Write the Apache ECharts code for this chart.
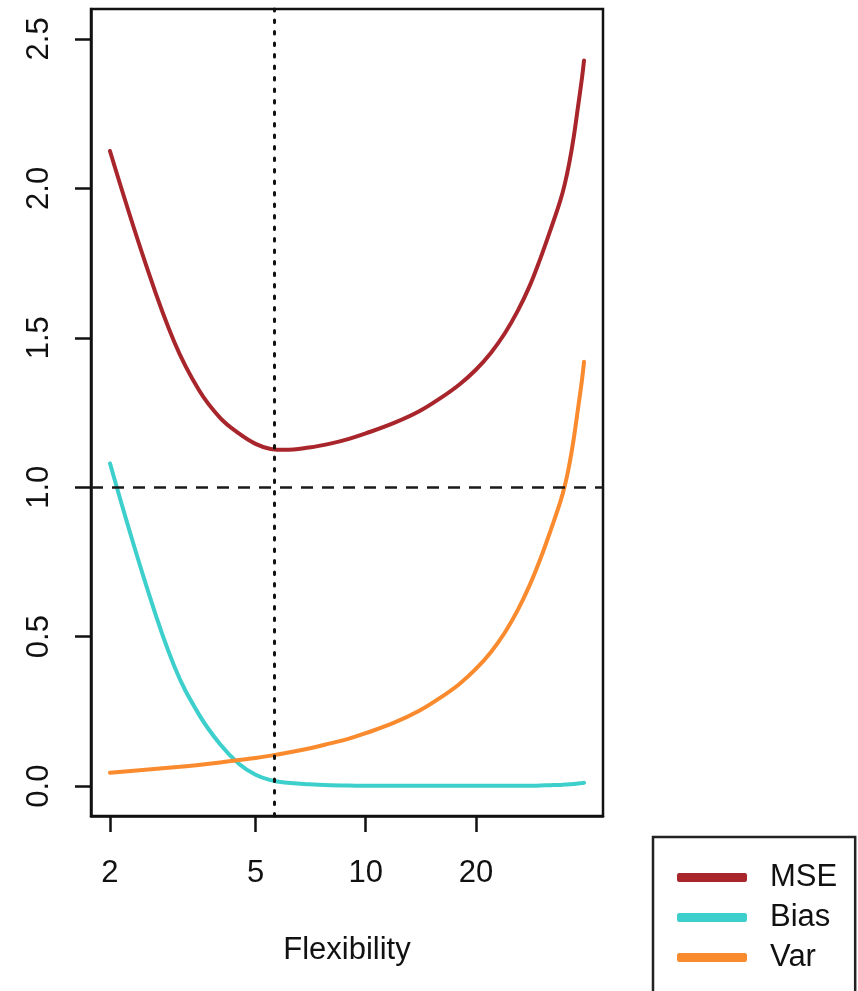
<!DOCTYPE html>
<html>
<head>
<meta charset="utf-8">
<script src="https://cdn.jsdelivr.net/npm/echarts@6/dist/echarts.min.js"></script>
<style>html,body{margin:0;padding:0;background:#fff}#c{width:858px;height:991px}</style>
</head>
<body>
<div id="c"></div>
<script>
// Flexibility (x, log scale)
const flex = [2, 2.5, 3, 3.5, 4, 4.5, 5, 5.5, 6, 7, 8, 9, 10, 12, 14, 16, 18, 20, 22, 24, 26, 28, 30, 32, 34, 35, 36, 37, 38, 39, 39.5];
// Test MSE
const mse = [2.125, 1.75, 1.485, 1.325, 1.232, 1.18, 1.145, 1.128, 1.125, 1.133, 1.146, 1.162, 1.18, 1.216, 1.254, 1.298, 1.343, 1.393, 1.45, 1.515, 1.589, 1.671, 1.765, 1.862, 1.958, 2.015, 2.085, 2.17, 2.27, 2.37, 2.428];
// Squared bias
const bias = [1.08, 0.68, 0.40, 0.24, 0.14, 0.075, 0.038, 0.02, 0.012, 0.006, 0.003, 0.002, 0.001, 0.001, 0.001, 0.001, 0.001, 0.001, 0.001, 0.001, 0.001, 0.001, 0.002, 0.003, 0.004, 0.005, 0.006, 0.007, 0.009, 0.010, 0.011];
// Variance
const variance = [0.045, 0.055, 0.063, 0.071, 0.079, 0.087, 0.094, 0.102, 0.110, 0.126, 0.143, 0.159, 0.177, 0.213, 0.252, 0.296, 0.341, 0.392, 0.449, 0.514, 0.588, 0.67, 0.76, 0.855, 0.95, 1.005, 1.075, 1.16, 1.26, 1.36, 1.42];
// Tick labels
const xTicks = [2, 5, 10, 20];
const yTicks = [0, 0.5, 1.0, 1.5, 2.0, 2.5];
const yLim = [0, 2.5];
// Reference lines
const irreducibleError = 1.0;
const optimalFlex = 5.65;
const seriesNames = ['MSE', 'Bias', 'Var'];

const lg = v => Math.log10(v);
const D = lg(flex[flex.length - 1]) - lg(flex[0]);
const xMin = lg(flex[0]) - 0.04 * D;
const xMax = lg(flex[flex.length - 1]) + 0.04 * D;
const yPad = 0.04 * (yLim[1] - yLim[0]);

const FONT = '"Liberation Sans", Arial, Helvetica, sans-serif';
const FS = 31;
const colors = ['#A8262B', '#3DCFCB', '#FA8A2E'];
const pts = arr => flex.map((x, i) => [lg(x), arr[i]]);

const mk = (name, arr, color) => ({
  name, type: 'line', data: pts(arr), smooth: 0.4,
  showSymbol: false, symbol: 'none', z: 3,
  lineStyle: { width: 4, color, cap: 'round', join: 'round' }, itemStyle: { color }
});

const chart = echarts.init(document.getElementById('c'), null, { renderer: 'canvas' });
chart.setOption({
  animation: false,
  backgroundColor: '#fff',
  textStyle: { fontFamily: FONT },
  grid: {
    left: 91, right: 255, top: 9, bottom: 175,
    show: true, borderColor: '#111', borderWidth: 2.5, backgroundColor: 'transparent',
    outerBoundsMode: 'none'
  },
  xAxis: {
    type: 'value', min: xMin, max: xMax,
    name: 'Flexibility', nameLocation: 'middle', nameGap: 119,
    nameTextStyle: { fontSize: FS, color: '#111', fontFamily: FONT },
    axisLine: { show: true, onZero: false, lineStyle: { color: '#111', width: 2.5 } },
    splitLine: { show: false },
    axisTick: { show: true, inside: false, length: 16, customValues: xTicks.map(lg), lineStyle: { color: '#111', width: 2.5 } },
    axisLabel: { customValues: xTicks.map(lg), formatter: v => String(Math.round(Math.pow(10, v))), fontSize: FS, color: '#111', margin: 42, fontFamily: FONT }
  },
  yAxis: {
    type: 'value', min: yLim[0] - yPad, max: yLim[1] + yPad,
    axisLine: { show: true, onZero: false, lineStyle: { color: '#111', width: 2.5 } },
    splitLine: { show: false },
    axisTick: { show: true, inside: false, length: 16, customValues: yTicks, lineStyle: { color: '#111', width: 2.5 } },
    axisLabel: { customValues: yTicks, formatter: v => v.toFixed(1), rotate: 90, fontSize: FS, color: '#111', margin: 36, fontFamily: FONT }
  },
  legend: {
    data: seriesNames, orient: 'vertical', left: 653, top: 837, height: 400,
    icon: 'roundRect', itemWidth: 70, itemHeight: 9, itemGap: 9,
    padding: [25, 18, 40, 24],
    borderColor: '#222', borderWidth: 2.5, borderRadius: 0,
    textStyle: { fontSize: FS, lineHeight: 31, color: '#111', fontFamily: FONT, padding: [0, 0, 0, 18] }
  },
  series: [
    mk(seriesNames[0], mse, colors[0]),
    mk(seriesNames[1], bias, colors[1]),
    mk(seriesNames[2], variance, colors[2]),
    {
      type: 'line', data: [], z: 5, silent: true,
      markLine: {
        silent: true, symbol: 'none', label: { show: false }, animation: false,
        data: [
          { yAxis: irreducibleError, lineStyle: { type: [12, 9], width: 2.5, color: '#1a1a1a' } },
          { xAxis: lg(optimalFlex), lineStyle: { type: [2.5, 9], width: 3, color: '#111', cap: 'round' } }
        ]
      }
    }
  ]
});
</script>
</body>
</html>
